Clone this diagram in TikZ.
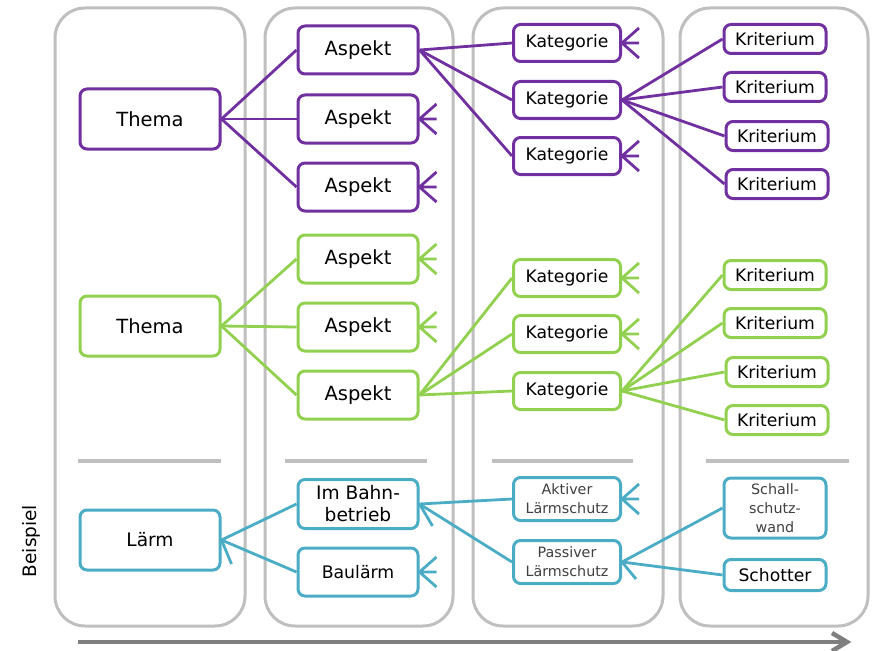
\documentclass[tikz,border=0pt]{standalone}
\usepackage{fontspec}
\setmainfont{DejaVu Sans}
\definecolor{cpurple}{HTML}{7030A0}
\definecolor{cgreen}{HTML}{92D050}
\definecolor{cteal}{HTML}{4BACC6}
\definecolor{colgray}{HTML}{BFBFBF}
\definecolor{arrgray}{HTML}{7F7F7F}
\definecolor{lighttext}{HTML}{404040}
\newcommand\crowfoot[2]{\draw[link,#1] (#2.east) -- ++(17,-15) (#2.east) -- ++(17,0) (#2.east) -- ++(17,15);}
\begin{document}
\begin{tikzpicture}[x=1pt,y=-1pt,
 box/.style={draw, rounded corners=7pt, line width=3pt, fill=white, inner sep=0pt, align=center, text=black},
 thema/.style={box, minimum width=140pt, minimum height=60pt, font=\fontsize{19.5}{22}\selectfont},
 aspekt/.style={box, minimum width=120pt, minimum height=48pt, font=\fontsize{19.5}{22}\selectfont},
 kat/.style={box, minimum width=107pt, minimum height=37pt, font=\fontsize{17.2}{20}\selectfont},
 krit/.style={box, minimum width=102pt, minimum height=29pt, font=\fontsize{17.2}{20}\selectfont},
 kat2/.style={box, minimum width=107pt, minimum height=43pt, font=\fontsize{14.3}{19}\selectfont, text=lighttext},
 krit2/.style={box, minimum width=102pt, minimum height=60pt, font=\fontsize{14.3}{19}\selectfont, text=lighttext},
 column/.style={draw=colgray, line width=3pt, rounded corners=30pt},
 sep/.style={draw=colgray, line width=3.2pt},
 link/.style={line width=2.8pt},
]
\useasboundingbox (0,0) rectangle (877,650);
% columns
\draw[column] (55,8) rectangle (245,626);
\draw[column] (265,8) rectangle (453,626);
\draw[column] (473,8) rectangle (663,626);
\draw[column] (680,8) rectangle (868,626);
% separators
\draw[sep] (78,461) -- (221,461);
\draw[sep] (285,461) -- (427,461);
\draw[sep] (492,461) -- (633,461);
\draw[sep] (706,461) -- (849,461);
% bottom arrow
\coordinate (arrS) at (78,642);
\coordinate (arrE) at (847,642);
\draw[arrgray, line width=4.5pt] (arrS) -- (arrE);
\draw[arrgray, line width=4.5pt, line join=miter] (arrE) ++(-15,-9) -- (arrE) -- ++(-15,9);
\node[rotate=90, font=\fontsize{18.5}{20}\selectfont] (bsp) at (31,541) {Beispiel};

% purple
\begin{scope}[every node/.append style={draw=cpurple}]
\node[thema] (pT) at (150,119) {Thema};
\node[aspekt] (pA1) at (358,50) {Aspekt};
\node[aspekt] (pA2) at (358,119) {Aspekt};
\node[aspekt] (pA3) at (358,187) {Aspekt};
\node[kat] (pK1) at (567,43) {Kategorie};
\node[kat] (pK2) at (567,100) {Kategorie};
\node[kat] (pK3) at (567,156) {Kategorie};
\node[krit] (pC1) at (775,39) {Kriterium};
\node[krit] (pC2) at (775,87) {Kriterium};
\node[krit] (pC3) at (777,136) {Kriterium};
\node[krit] (pC4) at (777,184) {Kriterium};
\end{scope}
\begin{scope}[link, cpurple]
\draw (pT.east) -- (pA1.west);
\draw (pT.east) -- (pA2.west);
\draw (pT.east) -- (pA3.west);
\draw (pA1.east) -- (pK1.west);
\draw (pA1.east) -- (pK2.west);
\draw (pA1.east) -- (pK3.west);
\draw (pK2.east) -- (pC1.west);
\draw (pK2.east) -- (pC2.west);
\draw (pK2.east) -- (pC3.west);
\draw (pK2.east) -- (pC4.west);
\end{scope}
\crowfoot{cpurple}{pA2}
\crowfoot{cpurple}{pA3}
\crowfoot{cpurple}{pK1}
\crowfoot{cpurple}{pK3}

% green
\begin{scope}[every node/.append style={draw=cgreen}]
\node[thema] (gT) at (150,326) {Thema};
\node[aspekt] (gA1) at (358,259) {Aspekt};
\node[aspekt] (gA2) at (358,327) {Aspekt};
\node[aspekt] (gA3) at (358,395) {Aspekt};
\node[kat] (gK1) at (567,278) {Kategorie};
\node[kat] (gK2) at (567,334) {Kategorie};
\node[kat] (gK3) at (567,391) {Kategorie};
\node[krit] (gC1) at (775,275) {Kriterium};
\node[krit] (gC2) at (775,323) {Kriterium};
\node[krit] (gC3) at (777,372) {Kriterium};
\node[krit] (gC4) at (777,420) {Kriterium};
\end{scope}
\begin{scope}[link, cgreen]
\draw (gT.east) -- (gA1.west);
\draw (gT.east) -- (gA2.west);
\draw (gT.east) -- (gA3.west);
\draw (gA3.east) -- (gK1.west);
\draw (gA3.east) -- (gK2.west);
\draw (gA3.east) -- (gK3.west);
\draw (gK3.east) -- (gC1.west);
\draw (gK3.east) -- (gC2.west);
\draw (gK3.east) -- (gC3.west);
\draw (gK3.east) -- (gC4.west);
\end{scope}
\crowfoot{cgreen}{gA1}
\crowfoot{cgreen}{gA2}
\crowfoot{cgreen}{gK1}
\crowfoot{cgreen}{gK2}

% teal
\begin{scope}[every node/.append style={draw=cteal}]
\node[thema, font=\fontsize{18.6}{22}\selectfont] (tT) at (150,540) {Lärm};
\node[aspekt, minimum height=49pt, font=\fontsize{18.6}{22}\selectfont] (tA1) at (358,504) {Im Bahn-\\betrieb};
\node[aspekt, font=\fontsize{17.3}{22}\selectfont] (tA2) at (358,572) {Baulärm};
\node[kat2] (tK1) at (567,499) {Aktiver\\Lärmschutz};
\node[kat2] (tK2) at (567,562) {Passiver\\Lärmschutz};
\node[krit2] (tC1) at (775,508) {Schall-\\schutz-\\wand};
\node[krit, minimum height=31pt] (tC2) at (775,575) {Schotter};
\end{scope}
\begin{scope}[link, cteal]
\draw (tT.east) -- (tA1.west);
\draw (tT.east) -- (tA2.west);
\draw (tA1.east) -- (tK1.west);
\draw (tA1.east) -- (tK2.west);
\draw (tK2.east) -- (tC1.west);
\draw (tK2.east) -- (tC2.west);
\draw (tT.east) -- ++(10,24);
\draw (tA1.east) -- ++(13,22);
\draw (tK2.east) -- ++(14,17);
\end{scope}
\crowfoot{cteal}{tA2}
\crowfoot{cteal}{tK1}
\end{tikzpicture}
\end{document}
